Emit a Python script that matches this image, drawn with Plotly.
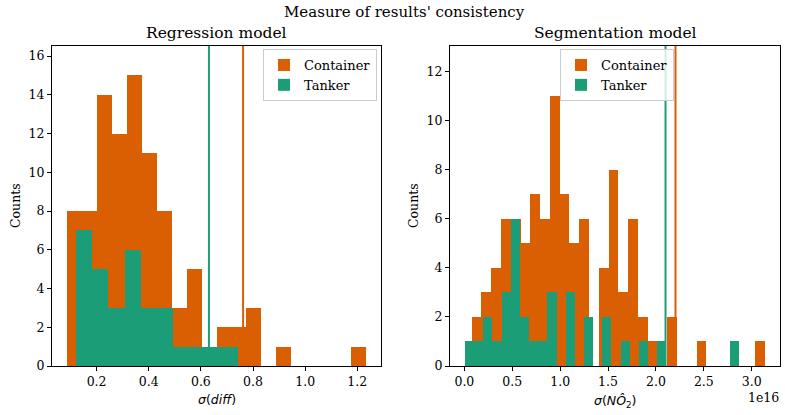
import plotly.graph_objects as go

# ---- Histogram data: per-bin counts over equal-width bins [start, end] ----
# Regression model, sigma(diff)
reg_container_counts = [8, 8, 14, 12, 15, 11, 8, 3, 5, 0, 2, 2, 3, 0, 1, 0, 0, 0, 0, 1]
reg_container_range = (0.086, 1.234)
reg_tanker_counts = [7, 5, 3, 6, 3, 3, 1, 1, 1, 1]
reg_tanker_range = (0.120, 0.744)
reg_lines = {"Container": 0.762, "Tanker": 0.631}

# Segmentation model, sigma(NO2 hat)
seg_container_counts = [2, 3, 4, 6, 6, 5, 7, 6, 11, 7, 5, 6, 0, 4, 8, 3, 6, 2, 1, 0,
                        2, 0, 0, 1, 0, 0, 0, 0, 0, 1]
seg_container_range = (0.076e16, 3.138e16)
seg_tanker_counts = [1, 1, 2, 1, 3, 6, 2, 1, 1, 3, 0, 3, 0, 2, 0, 2, 0, 1, 0, 1,
                     0, 1, 0, 0, 0, 0, 0, 0, 0, 1]
seg_tanker_range = (0.007e16, 2.872e16)
seg_lines = {"Container": 2.204e16, "Tanker": 2.100e16}

SEG_SCALE = 1e16
reg_xticks = [0.2, 0.4, 0.6, 0.8, 1.0, 1.2]
seg_xticks = [0.0, 0.5, 1.0, 1.5, 2.0, 2.5, 3.0]

COLORS = {"Container": "#d95f02", "Tanker": "#1b9e77"}
W, H = 785, 415
SERIF = "DejaVu Serif"


def bins(counts, rng, scale=1.0):
    lo, hi = rng[0] / scale, rng[1] / scale
    w = (hi - lo) / len(counts)
    centers = [lo + (i + 0.5) * w for i in range(len(counts))]
    return centers, w


def px(x):
    return x / W


def py(y):
    return 1 - y / H


fig = go.Figure()

series = [
    ("Container", reg_container_counts, reg_container_range, 1.0, "x", "y", "legend"),
    ("Tanker", reg_tanker_counts, reg_tanker_range, 1.0, "x", "y", "legend"),
    ("Container", seg_container_counts, seg_container_range, SEG_SCALE, "x2", "y2", "legend2"),
    ("Tanker", seg_tanker_counts, seg_tanker_range, SEG_SCALE, "x2", "y2", "legend2"),
]
for name, counts, rng, scale, xa, ya, leg in series:
    centers, w = bins(counts, rng, scale)
    fig.add_trace(go.Bar(
        x=centers, y=counts, width=w, name=name,
        marker=dict(color=COLORS[name], line=dict(width=0)),
        xaxis=xa, yaxis=ya, legend=leg, showlegend=True,
    ))

shapes = []
for lines, xref, yref, scale in [(reg_lines, "x", "y domain", 1.0),
                                 (seg_lines, "x2", "y2 domain", SEG_SCALE)]:
    for name, val in lines.items():
        shapes.append(dict(type="line", xref=xref, yref=yref,
                           x0=val / scale, x1=val / scale, y0=0, y1=1,
                           line=dict(color=COLORS[name], width=2), layer="above"))

axis_common = dict(
    showline=True, linecolor="black", linewidth=1, mirror=True,
    ticks="outside", ticklen=4, tickwidth=1, tickcolor="black",
    showgrid=False, zeroline=False, automargin=False,
    tickfont=dict(family=SERIF, size=12.5, color="black"),
)

y_dom = [py(366), py(46)]

legend_common = dict(
    y=py(49), yanchor="top",
    bgcolor="rgba(255,255,255,0.8)", bordercolor="#cccccc", borderwidth=1,
    font=dict(family=SERIF, size=13, color="black"),
    itemwidth=30, tracegroupgap=0,
)

fig.update_layout(
    width=W, height=H,
    margin=dict(l=0, r=0, t=0, b=0),
    paper_bgcolor="white", plot_bgcolor="white",
    barmode="overlay", bargap=0,
    showlegend=True,
    xaxis=dict(domain=[px(52), px(381)], range=[0.029, 1.291], anchor="y",
               tickvals=reg_xticks, tickformat=".1f", **axis_common),
    yaxis=dict(domain=y_dom, range=[0, 16.52], anchor="x", dtick=2, **axis_common),
    xaxis2=dict(domain=[px(450), px(780)], range=[-0.150, 3.295], anchor="y2",
                tickvals=seg_xticks, tickformat=".1f", **axis_common),
    yaxis2=dict(domain=y_dom, range=[0, 13.05], anchor="x2", dtick=2, **axis_common),
    legend=dict(x=px(377), xanchor="right", **legend_common),
    legend2=dict(x=px(560), xanchor="left", **legend_common),
    shapes=shapes,
)

annotations = [
    dict(text="Measure of results' consistency", x=px(404), y=py(12),
         font=dict(family=SERIF, size=15, color="black")),
    dict(text="Regression model", x=px(216.5), y=py(33),
         font=dict(family=SERIF, size=15.5, color="black")),
    dict(text="Segmentation model", x=px(615), y=py(33),
         font=dict(family=SERIF, size=15.5, color="black")),
    dict(text="<i>σ</i>(<i>diff</i>)", x=px(216.5), y=py(399),
         font=dict(family="DejaVu Sans", size=12.5, color="black")),
    dict(text="<i>σ</i>(<i>NO\u0302</i><sub>2</sub>)", x=px(615), y=py(401),
         font=dict(family="DejaVu Sans", size=12.5, color="black")),
    dict(text="Counts", x=px(15), y=py(206), textangle=-90,
         font=dict(family=SERIF, size=12.5, color="black")),
    dict(text="Counts", x=px(413), y=py(206), textangle=-90,
         font=dict(family=SERIF, size=12.5, color="black")),
    dict(text="1e16", x=px(781), y=py(397), xanchor="right",
         font=dict(family=SERIF, size=12.5, color="black")),
]
for a in annotations:
    a.update(xref="paper", yref="paper", showarrow=False,
             xanchor=a.get("xanchor", "center"), yanchor="middle")
fig.update_layout(annotations=annotations)

fig.write_html("out.html")
